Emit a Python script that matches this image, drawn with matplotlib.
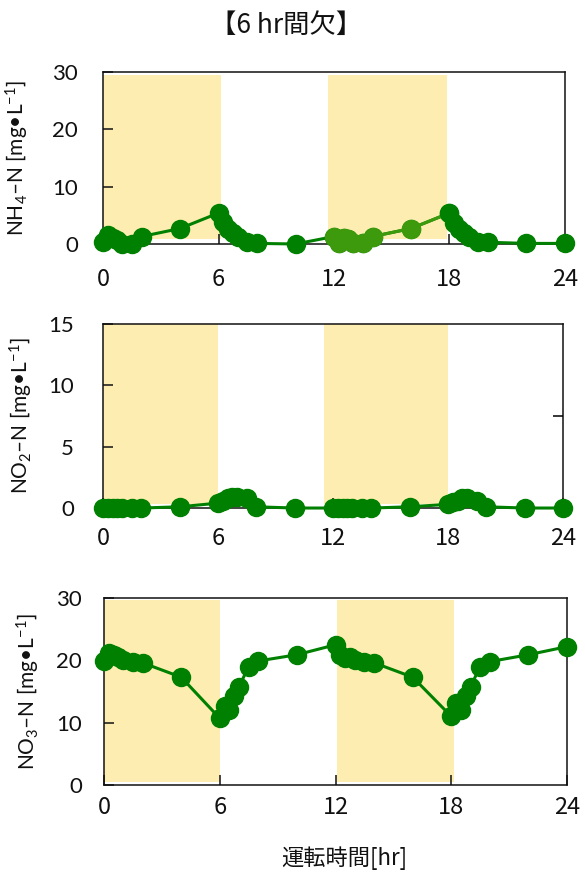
import matplotlib
matplotlib.use("Agg")
import matplotlib.pyplot as plt

# sampling times [hr]
hours = [0, 0.25, 0.5, 0.75, 1, 1.5, 2, 4, 6, 6.25, 6.5, 6.75, 7, 7.5, 8, 10,
         12, 12.25, 12.5, 12.75, 13, 13.5, 14, 16, 18, 18.25, 18.5, 18.75, 19, 19.5, 20, 22, 24]

nh4 = [0.4, 1.6, 1.0, 0.7, 0.0, 0.0, 1.3, 2.7, 5.4, 3.9, 2.7, 2.0, 1.3, 0.4, 0.1, 0.0,
       1.3, 0.1, 1.0, 0.8, 0.1, 0.1, 1.3, 2.7, 5.4, 3.6, 2.7, 1.9, 1.3, 0.4, 0.3, 0.1, 0.1]

no2 = [0.0, 0.0, 0.0, 0.0, 0.0, 0.0, 0.0, 0.1, 0.4, 0.6, 0.8, 0.9, 0.9, 0.8, 0.1, 0.0,
       0.0, 0.0, 0.0, 0.0, 0.0, 0.0, 0.0, 0.1, 0.3, 0.5, 0.6, 0.8, 0.8, 0.6, 0.1, 0.0, 0.0]

no3 = [19.9, 21.1, 20.9, 20.5, 20.1, 19.8, 19.6, 17.3, 10.7, 12.6, 12.0, 14.2, 15.8, 19.0, 19.9, 20.9,
       22.5, 20.9, 20.3, 20.5, 20.0, 19.8, 19.6, 17.3, 11.0, 13.1, 12.0, 14.2, 15.8, 19.0, 19.8, 20.9, 22.2]

# aeration periods (yellow bands)
bands_nh4 = [(0, 6.15), (11.7, 17.85)]
bands_no2 = [(0, 6.0), (11.55, 18.0)]
bands_no3 = [(0, 6.0), (12.1, 18.15)]

ylabels = ["NH$_4$\u2013N [mg\u2022L$^{-1}$]",
           "NO$_2$\u2013N [mg\u2022L$^{-1}$]",
           "NO$_3$\u2013N [mg\u2022L$^{-1}$]"]

green = "#008000"
light_green = "#3c9a0c"
band_col = "#fdedb0"
jp = ["Noto Sans CJK JP", "DejaVu Sans"]
lat = ["Lato", "DejaVu Sans"]

plt.rcParams["font.family"] = jp
plt.rcParams["mathtext.fontset"] = "custom"
plt.rcParams["mathtext.rm"] = "Lato"
plt.rcParams["mathtext.it"] = "Lato"

fig = plt.figure(figsize=(5.85, 8.72), dpi=100)

panels = [
    dict(rect=[0.1761, 0.7202, 0.7897, 0.1972], y=nh4, ylim=30, yt=[0, 10, 20, 30],
         bands=bands_nh4, bfrac=(0.027, 0.983), xpad=17, ypad=18, ylx=-0.155),
    dict(rect=[0.1761, 0.4174, 0.7863, 0.2110], y=no2, ylim=15, yt=[0, 5, 10, 15],
         bands=bands_no2, bfrac=(0.02, 1.0), xpad=14, ypad=21, ylx=-0.148),
    dict(rect=[0.1778, 0.0998, 0.7915, 0.2144], y=no3, ylim=30, yt=[0, 10, 20, 30],
         bands=bands_no3, bfrac=(0.015, 0.99), xpad=8, ypad=16, ylx=-0.135),
]

for i, p in enumerate(panels):
    ax = fig.add_axes(p["rect"])
    for x0, x1 in p["bands"]:
        ax.axvspan(x0, x1, ymin=p["bfrac"][0], ymax=p["bfrac"][1],
                   color=band_col, lw=0, zorder=0)
    ax.plot(hours, p["y"], "-o", color=green, lw=2.2, ms=13, mec=green,
            clip_on=False, zorder=5)
    if i == 0:
        seg_t = [t for t in hours if 12 <= t <= 18]
        seg_v = [v for t, v in zip(hours, nh4) if 12 <= t <= 18]
        ax.plot(seg_t, seg_v, "-", color=light_green, lw=2.2, zorder=6, clip_on=False)
        ax.plot(seg_t[:-1], seg_v[:-1], "o", color=light_green, ms=13, zorder=6, clip_on=False)
        ax.plot(seg_t[-1:], seg_v[-1:], "o", color=green, ms=13, zorder=7, clip_on=False)
    ax.set_xlim(0, 24)
    ax.set_ylim(0, p["ylim"])
    ax.set_xticks([0, 6, 12, 18, 24])
    ax.set_yticks(p["yt"])
    ax.tick_params(axis="x", direction="in", length=7, width=1.1, pad=p["xpad"],
                   labelsize=17, colors="#111111")
    ax.tick_params(axis="y", direction="in", length=7, width=1.1, pad=p["ypad"],
                   labelsize=16, colors="#111111")
    for lab in ax.get_yticklabels():
        lab.set_family(lat)
    for sp in ax.spines.values():
        sp.set_linewidth(1.1)
        sp.set_color("#111111")
        sp.set_zorder(3)
    ax.set_ylabel(ylabels[i], family=lat, fontsize=15, color="#111111")
    ax.yaxis.set_label_coords(p["ylx"], 0.5)
    if i == 1:
        ax2 = ax.twinx()
        ax2.set_ylim(0, 15)
        ax2.set_yticks([7.5])
        ax2.set_yticklabels([])
        ax2.tick_params(direction="in", length=7, width=1.1)
        for sp in ax2.spines.values():
            sp.set_visible(False)

fig.text(0.489, 0.971, "\u30106 hr間欠\u3011", ha="center", va="center",
         fontsize=19, family=jp, color="#111111")
fig.text(0.588, 0.016, "運転時間[hr]", ha="center", va="center",
         fontsize=16, family=jp, color="#111111")

fig.savefig("out.png", dpi=100)
